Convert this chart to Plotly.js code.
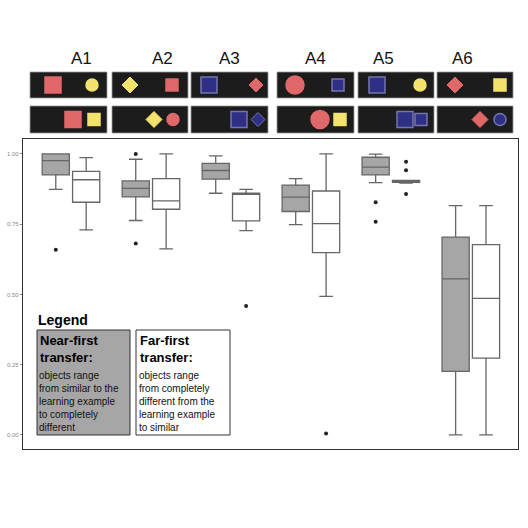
<!DOCTYPE html>
<html>
<head>
<script src="https://cdn.plot.ly/plotly-3.0.1.min.js"></script>
<style>body{margin:0;background:#fff}</style>
</head>
<body>
<div id="chart" style="width:528px;height:528px"></div>
<script>
// box stats, per task A1..A6
const tasks = ['A1', 'A2', 'A3', 'A4', 'A5', 'A6'];
const nearQ1 = [0.925, 0.847, 0.910, 0.795, 0.925, 0.226];
const nearMed = [0.976, 0.877, 0.941, 0.846, 0.953, 0.555];
const nearQ3 = [1.000, 0.904, 0.966, 0.889, 0.988, 0.704];
const nearLo = [0.874, 0.763, 0.860, 0.748, 0.898, 0.000];
const nearHi = [1.000, 0.981, 0.993, 0.912, 0.999, 0.816];
const farQ1 = [0.828, 0.803, 0.762, 0.649, 0.899, 0.273];
const farMed = [0.908, 0.833, 0.860, 0.752, 0.903, 0.486];
const farQ3 = [0.938, 0.912, 0.860, 0.868, 0.906, 0.677];
const farLo = [0.730, 0.662, 0.727, 0.493, 0.896, 0.000];
const farHi = [0.987, 1.000, 0.874, 1.000, 0.906, 0.816];
const nearOutTask = [1, 2, 2, 5, 5];
const nearOutVal = [0.659, 1.000, 0.681, 0.828, 0.759];
const farOutTask = [3, 4, 5, 5, 5];
const farOutVal = [0.459, 0.005, 0.972, 0.942, 0.857];

const off = 0.19;
const idx = tasks.map((_, i) => i + 1);

function boxTrace(q1, med, q3, lo, hi, sign, fill) {
    return {
        type: 'box',
        x: idx.map(i => i + sign * off),
        q1: q1, median: med, q3: q3, lowerfence: lo, upperfence: hi,
        width: 0.34,
        fillcolor: fill,
        line: { color: '#666', width: 1.3 },
        boxpoints: false,
        hoverinfo: 'y',
        showlegend: false
    };
}
function outTrace(t, v, sign) {
    return {
        type: 'scatter', mode: 'markers',
        x: t.map(i => i + sign * off), y: v,
        marker: { color: '#222', size: 4 },
        showlegend: false
    };
}
const traces = [
    boxTrace(nearQ1, nearMed, nearQ3, nearLo, nearHi, -1, '#a6a6a6'),
    boxTrace(farQ1, farMed, farQ3, farLo, farHi, 1, '#ffffff'),
    outTrace(nearOutTask, nearOutVal, -1),
    outTrace(farOutTask, farOutVal, 1)
];

// pixel -> paper helpers (plot area 23..518 x 139..449)
const px = x => (x - 23) / 495;
const py = y => (449 - y) / 310;

const pink = '#e06868', yellow = '#f3e26b', blue = '#2f2f86';
// object pictures on top: [centre x, row, kind, colour, size]
const objs = [
    [53, 0, 'sq', pink, 16], [92, 0, 'ci', yellow, 12],
    [130, 0, 'di', yellow, 16], [172, 0, 'sq', pink, 12],
    [209, 0, 'sq', blue, 16], [256, 0, 'di', pink, 14],
    [295, 0, 'ci', pink, 18], [338, 0, 'sq', blue, 12],
    [377, 0, 'sq', blue, 16], [420, 0, 'ci', yellow, 12],
    [455, 0, 'di', pink, 16], [500, 0, 'sq', yellow, 12],
    [73, 1, 'sq', pink, 16], [94, 1, 'sq', yellow, 12],
    [154, 1, 'di', yellow, 16], [173, 1, 'ci', pink, 12],
    [239, 1, 'sq', blue, 16], [258, 1, 'di', blue, 14],
    [320, 1, 'ci', pink, 18], [340, 1, 'sq', yellow, 12],
    [405, 1, 'sq', blue, 16], [421, 1, 'sq', blue, 12],
    [480, 1, 'di', pink, 16], [500, 1, 'ci', blue, 12]
];
const panelX = [[30, 107], [112, 188], [191, 268], [277, 354], [358, 434], [437, 513]];
const rowY = [[72, 98], [106, 133]];

const shapes = [];
panelX.forEach(p => rowY.forEach(r => shapes.push({
    type: 'rect', xref: 'paper', yref: 'paper',
    x0: px(p[0]), x1: px(p[1]), y0: py(r[1]), y1: py(r[0]),
    fillcolor: '#1c1c1c', line: { color: '#999', width: 0.8 }
})));
objs.forEach(([cx, row, kind, col, s]) => {
    const cy = (rowY[row][0] + rowY[row][1]) / 2, h = s / 2;
    const border = col === blue ? '#7474b0' : col;
    if (kind === 'sq' || kind === 'ci') {
        shapes.push({
            type: kind === 'sq' ? 'rect' : 'circle', xref: 'paper', yref: 'paper',
            x0: px(cx - h), x1: px(cx + h), y0: py(cy + h), y1: py(cy - h),
            fillcolor: col, line: { color: border, width: 1.5 }
        });
    } else {
        const pts = [[cx, cy - h], [cx + h, cy], [cx, cy + h], [cx - h, cy]];
        shapes.push({
            type: 'path', xref: 'paper', yref: 'paper',
            path: 'M' + pts.map(q => px(q[0]) + ',' + py(q[1])).join('L') + 'Z',
            fillcolor: col, line: { color: border, width: 1 }
        });
    }
});
// legend boxes
shapes.push({ type: 'rect', xref: 'paper', yref: 'paper', x0: px(37), x1: px(130), y0: py(435), y1: py(330),
    fillcolor: '#a6a6a6', line: { color: '#333', width: 1 } });
shapes.push({ type: 'rect', xref: 'paper', yref: 'paper', x0: px(136), x1: px(230), y0: py(435), y1: py(330),
    fillcolor: '#ffffff', line: { color: '#333', width: 1 } });

const annotations = tasks.map((t, i) => ({
    text: t, xref: 'paper', yref: 'paper',
    x: px((panelX[i][0] + panelX[i][1]) / 2), y: py(58), yanchor: 'middle',
    showarrow: false, font: { size: 17, color: '#111' }
}));
annotations.push({ text: '<b>Legend</b>', xref: 'paper', yref: 'paper', x: px(36), y: py(320),
    xanchor: 'left', yanchor: 'middle', showarrow: false, font: { size: 14, color: '#000' } });
annotations.push({
    text: '<b>Near-first<br>transfer:</b>', xref: 'paper', yref: 'paper', x: px(38), y: py(331),
    xanchor: 'left', yanchor: 'top', align: 'left', showarrow: false, font: { size: 13, color: '#000' }
});
annotations.push({
    text: 'objects range<br>from similar to the<br>learning example<br>to completely<br>different',
    xref: 'paper', yref: 'paper', x: px(37), y: py(368),
    xanchor: 'left', yanchor: 'top', align: 'left', showarrow: false, font: { size: 10, color: '#111' }
});
annotations.push({
    text: '<b>Far-first<br>transfer:</b>', xref: 'paper', yref: 'paper', x: px(138), y: py(331),
    xanchor: 'left', yanchor: 'top', align: 'left', showarrow: false, font: { size: 13, color: '#000' }
});
annotations.push({
    text: 'objects range<br>from completely<br>different from the<br>learning example<br>to similar',
    xref: 'paper', yref: 'paper', x: px(137), y: py(368),
    xanchor: 'left', yanchor: 'top', align: 'left', showarrow: false, font: { size: 10, color: '#111' }
});

const layout = {
    width: 528, height: 528,
    margin: { l: 23, r: 10, t: 139, b: 79 },
    paper_bgcolor: '#fff', plot_bgcolor: '#fff',
    font: { family: 'Liberation Sans, Arial, sans-serif' },
    xaxis: { range: [0.4, 6.59], showticklabels: false, ticks: '', showgrid: false, zeroline: false,
        showline: true, mirror: true, linecolor: '#333', linewidth: 1.2 },
    yaxis: { range: [-0.05, 1.053], tickvals: [0, 0.25, 0.5, 0.75, 1], ticktext: ['0.00', '0.25', '0.50', '0.75', '1.00'],
        tickfont: { size: 6, color: '#888' }, ticks: 'outside', ticklen: 2, tickcolor: '#888',
        showgrid: false, zeroline: false, showline: true, mirror: true, linecolor: '#333', linewidth: 1.2 },
    shapes: shapes,
    annotations: annotations
};
Plotly.newPlot('chart', traces, layout, { displayModeBar: false, staticPlot: true });
</script>
</body>
</html>
